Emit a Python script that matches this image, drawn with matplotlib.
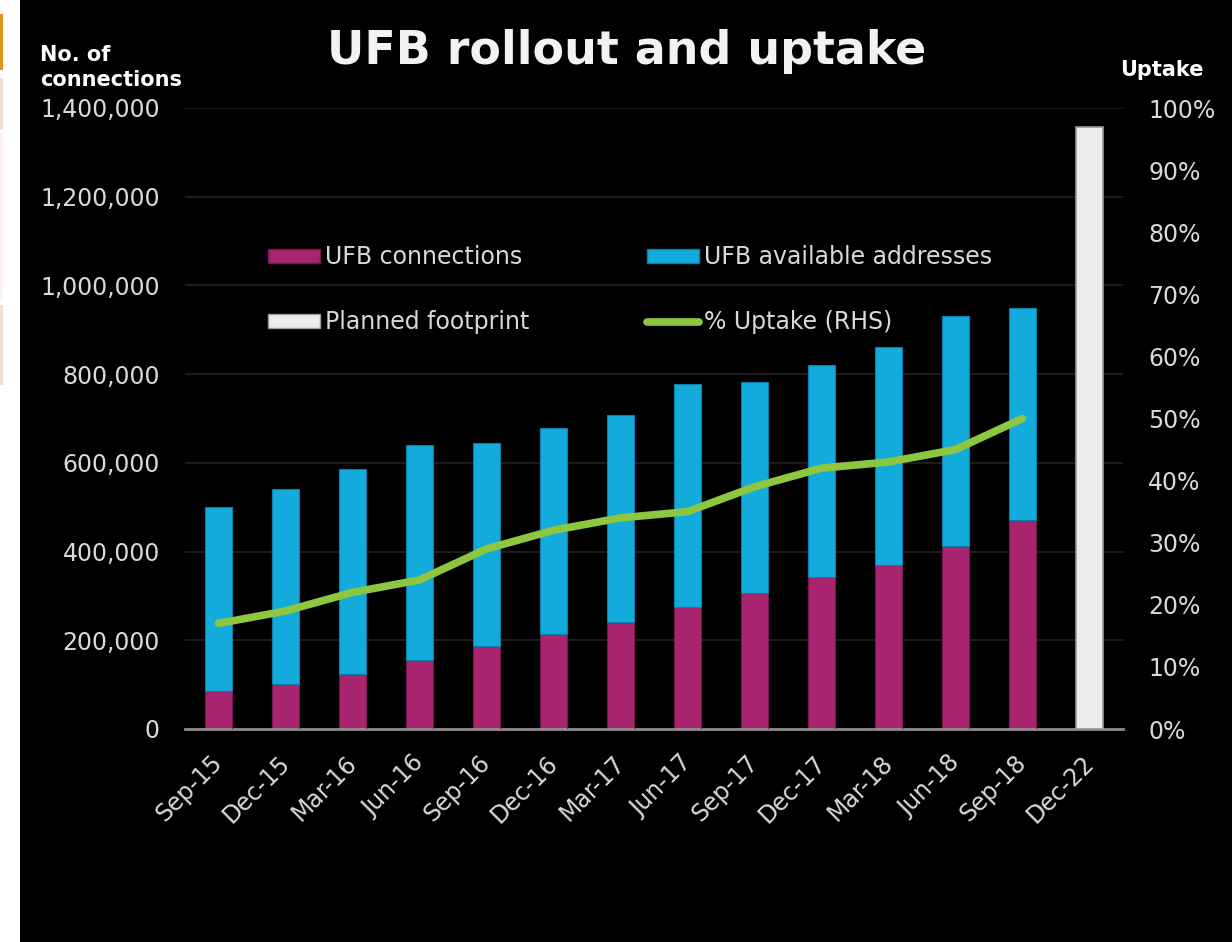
import numpy as np
import matplotlib
matplotlib.use("Agg")
import matplotlib.pyplot as plt
from matplotlib.patches import Rectangle
from matplotlib.lines import Line2D
from matplotlib.ticker import FuncFormatter
from matplotlib.transforms import ScaledTranslation

# Data
quarters = ['Sep-15', 'Dec-15', 'Mar-16', 'Jun-16', 'Sep-16', 'Dec-16', 'Mar-17',
            'Jun-17', 'Sep-17', 'Dec-17', 'Mar-18', 'Jun-18', 'Sep-18', 'Dec-22']
connections = [86000, 101000, 124000, 155000, 187000, 214000, 241000,
               275000, 307000, 343000, 370000, 413000, 471000, 0]
available_total = [500000, 541000, 586000, 640000, 645000, 679000, 708000,
                   778000, 782000, 821000, 861000, 931000, 949000, 0]
planned = [0] * 13 + [1357000]
uptake = [17, 19, 22, 24, 29, 32, 34, 35, 39, 42, 43, 45, 50]

available = [t - c for t, c in zip(available_total, connections)]

magenta = '#A8246F'
cyan = '#13AADC'
white_bar = '#ECECEC'
green = '#8DC63F'
txt = '#D9D9D9'

fig = plt.figure(figsize=(12.32, 9.42), dpi=100, facecolor='black')

# white strip on the left edge
fig.patches.append(Rectangle((0, 0), 20 / 1232, 1, transform=fig.transFigure,
                             facecolor='white', edgecolor='none', zorder=-5))
for y0, y1, c in [(14, 70, '#E8901E'), (78, 130, '#F4DDD2'),
                  (133, 300, '#FBF1EC'), (305, 385, '#F4DDD2')]:
    fig.patches.append(Rectangle((0, 1 - y1 / 942), 3 / 1232, (y1 - y0) / 942,
                                 transform=fig.transFigure, facecolor=c,
                                 edgecolor='none', zorder=-4))

ax = fig.add_axes([185 / 1232, 1 - 729 / 942, 938 / 1232, 621 / 942])
ax.set_facecolor('black')
x = np.arange(len(quarters))
w = 0.41

ax.bar(x, connections, w, color=magenta, edgecolor='#7A1550', linewidth=0.8, zorder=3)
ax.bar(x, available, w, bottom=connections, color=cyan, edgecolor='#0A7FA8',
       linewidth=0.8, zorder=3)
ax.bar(x, planned, w, color=white_bar, edgecolor='#9A9A9A', linewidth=1.2, zorder=3)

ax.set_xlim(-0.5, len(quarters) - 0.5)
ax.set_ylim(0, 1400000)
ax.set_yticks(np.arange(0, 1400001, 200000))
ax.yaxis.set_major_formatter(FuncFormatter(lambda v, p: f'{int(v):,}'))
ax.grid(axis='y', color='#222222', linewidth=1.2, zorder=0)
ax.set_axisbelow(True)
ax.set_xticks(x)
ax.set_xticklabels(quarters, rotation=45, ha='right', rotation_mode='anchor')
ax.tick_params(axis='both', length=0, colors=txt, labelsize=17, pad=12)
ax.tick_params(axis='y', pad=18)
# nudge the rotated date labels a little left/down
shift = ScaledTranslation(-8 / 100, -5 / 100, fig.dpi_scale_trans)
for lab in ax.get_xticklabels():
    lab.set_transform(lab.get_transform() + shift)
for s in ['top', 'right', 'left']:
    ax.spines[s].set_visible(False)
ax.spines['bottom'].set_color('#8C8C8C')
ax.spines['bottom'].set_linewidth(2)

ax2 = ax.twinx()
ax2.plot(x[:len(uptake)], uptake, color=green, linewidth=5.5,
         solid_capstyle='round', solid_joinstyle='round', zorder=5)
ax2.set_ylim(0, 100)
ax2.set_yticks(np.arange(0, 101, 10))
ax2.yaxis.set_major_formatter(FuncFormatter(lambda v, p: f'{int(v)}%'))
ax2.tick_params(axis='y', length=0, colors=txt, labelsize=17, pad=18)
for s in ['top', 'right', 'left', 'bottom']:
    ax2.spines[s].set_visible(False)

handles = [Rectangle((0, 0), 1, 1, facecolor=magenta, edgecolor='#7A1550'),
           Rectangle((0, 0), 1, 1, facecolor=white_bar, edgecolor='#9A9A9A'),
           Rectangle((0, 0), 1, 1, facecolor=cyan, edgecolor='#0A7FA8'),
           Line2D([0], [0], color=green, linewidth=5.5, solid_capstyle='round')]
labels = ['UFB connections', 'Planned footprint', 'UFB available addresses', '% Uptake (RHS)']
leg = ax2.legend(handles, labels, ncol=2, frameon=False, fontsize=17,
                 loc='upper left', bbox_to_anchor=(268 / 1232, 1 - 245 / 942),
                 bbox_transform=fig.transFigure, borderpad=0, borderaxespad=0,
                 handlelength=2.2, handleheight=0.55, handletextpad=0.2,
                 labelspacing=1.75, columnspacing=5.0)
for t in leg.get_texts():
    t.set_color(txt)

fig.text(627 / 1232, 1 - 52 / 942, 'UFB rollout and uptake', ha='center', va='center',
         fontsize=33, fontweight='bold', color='#F2F2F2')
fig.text(40 / 1232, 1 - 45 / 942, 'No. of\nconnections', ha='left', va='top',
         fontsize=15, fontweight='bold', color='white', linespacing=1.3)
fig.text(1162 / 1232, 1 - 70 / 942, 'Uptake', ha='center', va='center',
         fontsize=15, fontweight='bold', color='white')

fig.savefig('out.png', dpi=100, facecolor='black')
